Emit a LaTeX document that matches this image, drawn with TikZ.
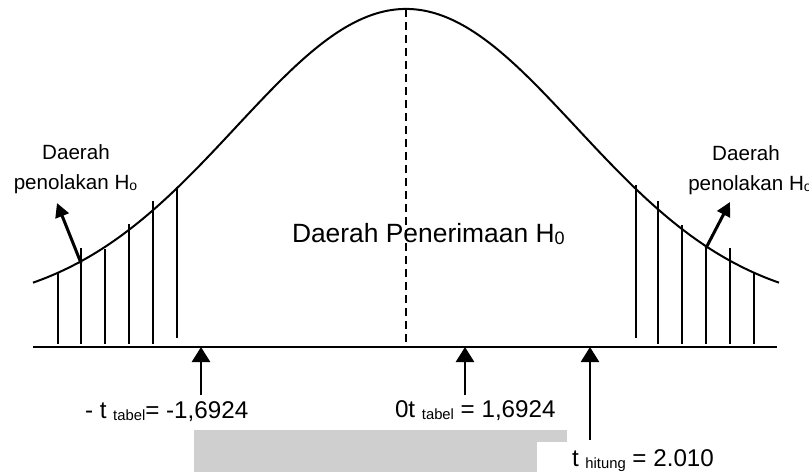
\documentclass[tikz,border=0pt]{standalone}
\usepackage{fontspec}
\setmainfont{Liberation Sans}
\usetikzlibrary{arrows.meta}
\newcommand\lowtxt[3]{\raisebox{#1}{\fontsize{#2}{#2}\selectfont #3}}
\begin{document}
\begin{tikzpicture}[x=0.5pt,y=-0.5pt,
  lbl/.style={inner sep=0pt, outer sep=0pt},
  side/.style={lbl, font=\fontsize{10.3}{12}\selectfont, anchor=base},
  mid/.style={lbl, font=\fontsize{13.2}{14}\selectfont, anchor=base west},
  bot/.style={lbl, font=\fontsize{12.1}{13}\selectfont, anchor=base west},
  curve/.style={line width=1pt},
  hatch/.style={line width=0.8pt},
  axis/.style={line width=1.1pt},
  mean/.style={line width=1pt, dash pattern=on 4pt off 2.5pt},
  bigarrow/.style={line width=1.35pt, -{Triangle[length=7.5pt,width=9pt]}},
  smallarrow/.style={line width=1.5pt, -{Triangle[length=7pt,width=7pt]}}
]
\useasboundingbox (0,0) rectangle (809,472);
% grey band at the bottom
\fill[black!19] (194,430) rectangle (567,472);
\fill[white] (537,442) rectangle (742,472);
% axis
\coordinate (axL) at (33,347);
\coordinate (axR) at (777,347);
\draw[axis] (axL) -- (axR);
% curve
\draw[curve] plot[domain=-373:373, samples=150, smooth]
  ({406+\x},{310-301*exp(-(\x/100)*(\x/100)/5.8)});
% mean line
\coordinate (peak) at (406,9);
\coordinate (peakfoot) at (406,346);
\draw[mean] (peak) -- (peakfoot);
% hatching of rejection regions
\foreach \xx/\yt/\yb in {58/273/344, 81/248/344, 105/249/344, 129/224/344, 153/201/344, 177/187/338,
                          636/185/338, 658/201/344, 682/225/344, 706/247/344, 730/248/344, 754/273/344}
  \draw[hatch] (\xx,\yt) -- (\xx,\yb);
% labels
\node[side] (dl1) at (76,159) {Daerah};
\node[side] (dl2) at (75.5,189) {penolakan H\lowtxt{-0.6pt}{7}{o}};
\node[side] (dr1) at (746,160) {Daerah};
\node[side] (dr2) at (750,190) {penolakan H\lowtxt{-0.6pt}{7}{o}};
\node[mid] (acc) at (292,242) {Daerah Penerimaan H\lowtxt{-1pt}{9}{0}};
\node[bot] (lt) at (85,418) {- t \lowtxt{-1pt}{7.4}{tabel}= -1,6924};
\node[bot] (mt) at (395,417) {0t \lowtxt{-1pt}{7.4}{tabel} = 1,6924};
\node[bot] (ht) at (572,466) {t \lowtxt{-1.2pt}{7.4}{hitung} = 2.010};
% small arrows
\coordinate (la1) at (81,263);
\coordinate (la2) at (57,203);
\draw[smallarrow] (la1) -- (la2);
\coordinate (ra1) at (706,248);
\coordinate (ra2) at (730,202);
\draw[smallarrow] (ra1) -- (ra2);
% bottom arrows
\coordinate (b1s) at (201,395);
\coordinate (b1e) at (201,347);
\draw[bigarrow] (b1s) -- (b1e);
\coordinate (b2s) at (465,395);
\coordinate (b2e) at (465,347);
\draw[bigarrow] (b2s) -- (b2e);
\coordinate (b3s) at (590,440);
\coordinate (b3e) at (590,347);
\draw[bigarrow] (b3s) -- (b3e);
\end{tikzpicture}
\end{document}
